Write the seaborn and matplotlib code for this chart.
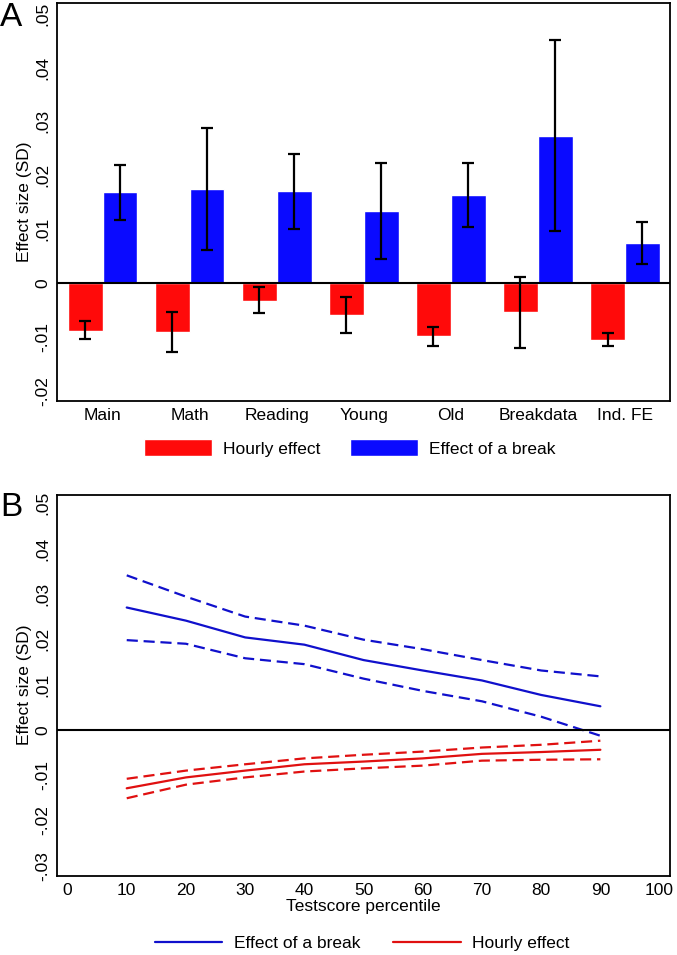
import numpy as np
import pandas as pd
import matplotlib
matplotlib.use("Agg")
import matplotlib.pyplot as plt
import seaborn as sns
from matplotlib.patches import Patch
from matplotlib.lines import Line2D
from matplotlib.ticker import FuncFormatter

sns.set_style("white")
plt.rcParams['font.family'] = ['Liberation Sans', 'DejaVu Sans']
plt.rcParams['text.color'] = 'black'
plt.rcParams['axes.labelcolor'] = 'black'
plt.rcParams['xtick.color'] = 'black'
plt.rcParams['ytick.color'] = 'black'

# panel A data
groups = ['Main', 'Math', 'Reading', 'Young', 'Old', 'Breakdata', 'Ind. FE']
hourly = [-0.0089, -0.0090, -0.0033, -0.0059, -0.0099, -0.0054, -0.0105]
hourly_hi = [-0.0071, -0.0053, -0.0008, -0.0026, -0.0082, 0.0012, -0.0093]
hourly_lo = [-0.0104, -0.0127, -0.0056, -0.0092, -0.0116, -0.0120, -0.0117]
brk = [0.0169, 0.0175, 0.0170, 0.0133, 0.0164, 0.0273, 0.0074]
brk_hi = [0.0219, 0.0288, 0.0240, 0.0223, 0.0223, 0.0452, 0.0114]
brk_lo = [0.0117, 0.0062, 0.0100, 0.0044, 0.0104, 0.0096, 0.0036]

# panel B data
pct = [10, 20, 30, 40, 50, 60, 70, 80, 90]
brk_pct = [0.0270, 0.0241, 0.0204, 0.0188, 0.0154, 0.0131, 0.0109, 0.0077, 0.0052]
brk_pct_hi = [0.0341, 0.0294, 0.0250, 0.0230, 0.0199, 0.0178, 0.0154, 0.0131, 0.0118]
brk_pct_lo = [0.0198, 0.0190, 0.0158, 0.0145, 0.0113, 0.0086, 0.0063, 0.0029, -0.0013]
hr_pct = [-0.0129, -0.0105, -0.0090, -0.0076, -0.0070, -0.0063, -0.0053, -0.0049, -0.0044]
hr_pct_hi = [-0.0108, -0.0090, -0.0076, -0.0063, -0.0055, -0.0048, -0.0039, -0.0033, -0.0024]
hr_pct_lo = [-0.0151, -0.0121, -0.0105, -0.0092, -0.0085, -0.0079, -0.0068, -0.0066, -0.0065]

RED = '#FF0A0A'
BLUE = '#0A0AFF'
LRED = '#E01010'
LBLUE = '#1010CC'
FS = 12.5


def stata_fmt(v, pos):
    if abs(v) < 1e-9:
        return '0'
    s = f'{v:.2f}'.replace('0.', '.')
    return s


fig = plt.figure(figsize=(6.77, 9.55), dpi=100)
axA = fig.add_axes([0.084, 0.580, 0.906, 0.417])
axB = fig.add_axes([0.084, 0.083, 0.906, 0.399])

# ---- panel A: grouped bars with CIs
df = pd.DataFrame({
    'group': groups * 2,
    'effect': ['Hourly effect'] * len(groups) + ['Effect of a break'] * len(groups),
    'value': hourly + brk,
    'lo': hourly_lo + brk_lo,
    'hi': hourly_hi + brk_hi,
})
sns.barplot(data=df, x='group', y='value', hue='effect', order=groups,
            hue_order=['Hourly effect', 'Effect of a break'],
            palette=[RED, BLUE], errorbar=None, width=0.8, saturation=1,
            legend=False, ax=axA)

# patches come out grouped by hue level, in the same order as df
for patch, lo, hi in zip(axA.patches, df['lo'], df['hi']):
    xc = patch.get_x() + patch.get_width() / 2
    axA.errorbar([xc], [(lo + hi) / 2], yerr=[[(hi - lo) / 2]], fmt='none',
                 ecolor='black', elinewidth=1.6, capsize=4, capthick=1.6, zorder=5)

axA.axhline(0, color='black', lw=1.5, zorder=4)
axA.set_xlim(-0.525, 6.52)
axA.set_ylim(-0.0219, 0.052)
axA.set_yticks([-0.02, -0.01, 0, 0.01, 0.02, 0.03, 0.04, 0.05])
axA.yaxis.set_major_formatter(FuncFormatter(stata_fmt))
axA.set_xlabel('')
axA.set_ylabel('Effect size (SD)', fontsize=FS)
axA.yaxis.set_label_coords(-0.040, 0.5)

# ---- panel B: effects by test score percentile
for vals, col, ls in [(brk_pct, LBLUE, '-'), (brk_pct_hi, LBLUE, '--'), (brk_pct_lo, LBLUE, '--'),
                      (hr_pct, LRED, '-'), (hr_pct_hi, LRED, '--'), (hr_pct_lo, LRED, '--')]:
    sns.lineplot(x=pct, y=vals, color=col, lw=1.6, ax=axB)
    if ls == '--':
        axB.lines[-1].set_dashes((5, 2.6))

axB.axhline(0, color='black', lw=1.5)
axB.set_xlim(-1.8, 101.8)
axB.set_ylim(-0.0322, 0.0519)
axB.set_xticks(range(0, 101, 10))
axB.set_yticks([-0.03, -0.02, -0.01, 0, 0.01, 0.02, 0.03, 0.04, 0.05])
axB.yaxis.set_major_formatter(FuncFormatter(stata_fmt))
axB.set_xlabel('Testscore percentile', fontsize=FS, labelpad=1)
axB.set_ylabel('Effect size (SD)', fontsize=FS)
axB.yaxis.set_label_coords(-0.040, 0.5)

for ax in (axA, axB):
    for sp in ax.spines.values():
        sp.set_color('black')
        sp.set_linewidth(1.3)
    ax.tick_params(axis='both', length=0, labelsize=FS, colors='black')
    ax.tick_params(axis='x', pad=5)
    ax.tick_params(axis='y', pad=5)
    for lab in ax.get_yticklabels():
        lab.set_rotation(90)
        lab.set_va('center')

# legends
hA = [Patch(facecolor=RED, label='Hourly effect'), Patch(facecolor=BLUE, label='Effect of a break')]
fig.legend(handles=hA, loc='center', bbox_to_anchor=(350 / 677, 1 - 448 / 955), ncol=2,
           frameon=False, fontsize=FS, handlelength=3.9, handleheight=1.1,
           handletextpad=0.65, columnspacing=1.7)
hB = [Line2D([], [], color=LBLUE, lw=1.6, label='Effect of a break'),
      Line2D([], [], color=LRED, lw=1.6, label='Hourly effect')]
fig.legend(handles=hB, loc='center', bbox_to_anchor=(362 / 677, 1 - 943 / 955), ncol=2,
           frameon=False, fontsize=FS, handlelength=3.9,
           handletextpad=0.65, columnspacing=1.9)

fig.text(0.0, 1 - 17 / 955, 'A', fontsize=24, va='center', ha='left')
fig.text(0.0, 1 - 507 / 955, 'B', fontsize=24, va='center', ha='left')

fig.savefig('out.png', dpi=100)
